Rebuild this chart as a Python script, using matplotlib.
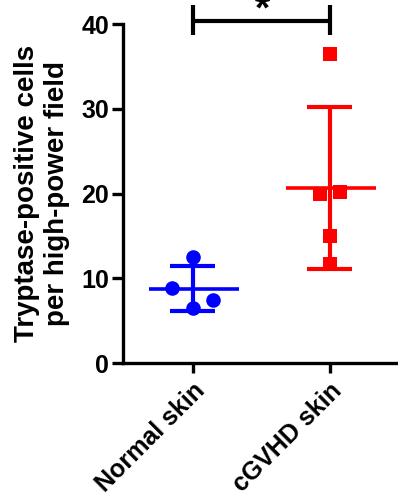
import numpy as np
import matplotlib
matplotlib.use("Agg")
import matplotlib.pyplot as plt

plt.rcParams['font.family'] = ['Liberation Sans', 'DejaVu Sans']
plt.rcParams['font.weight'] = 'bold'

groups = ["Normal skin", "cGVHD skin"]
normal_vals = [12.5, 8.8, 7.4, 6.45]
cgvhd_vals = [36.5, 20.0, 20.2, 15.0, 11.65]
yticks = [0, 10, 20, 30, 40]
ylabel = "Tryptase-positive cells\nper high-power field"

# horizontal scatter offsets so overlapping points stay visible
normal_jitter = [0.0, -0.15, 0.146, 0.0]
cgvhd_jitter = [0.0, -0.073, 0.073, 0.0, 0.0]

colors = ["#0000ff", "#ff0000"]
markers = ["o", "s"]

fig = plt.figure(figsize=(3.98, 4.96), dpi=100)
ax = fig.add_axes([0.309, 0.268, 0.691, 0.6835])

for i, (vals, jit) in enumerate([(normal_vals, normal_jitter), (cgvhd_vals, cgvhd_jitter)]):
    x = i + 1
    v = np.array(vals)
    m = v.mean()
    sd = v.std(ddof=1)
    c = colors[i]
    ax.scatter(x + np.array(jit), v, s=110, marker=markers[i], color=c,
               zorder=3, linewidths=0, clip_on=False)
    ax.hlines(m, x - 0.32, x + 0.34, color=c, lw=2.6, zorder=2)
    ax.vlines(x, m - sd, m + sd, color=c, lw=3.0, zorder=2)
    ax.hlines([m - sd, m + sd], x - 0.165, x + 0.165, color=c, lw=3.0, zorder=2)

# significance bracket
ax.plot([1, 2], [40.35, 40.35], color='black', lw=3.0, clip_on=False, solid_capstyle='butt')
ax.vlines([1, 2], 38.7, 42.2, color='black', lw=3.0, clip_on=False)
ax.text(1.51, 40.4, "*", ha='center', va='baseline', fontsize=28, fontweight='bold',
        clip_on=False)

ax.set_xlim(0.49, 2.5)
ax.set_ylim(0, 40)
ax.set_yticks(yticks)
ax.set_xticks([1, 2])
ax.set_xticklabels(groups, rotation=45, ha='right', rotation_mode='anchor',
                   fontsize=18, fontweight='bold')
ax.tick_params(axis='y', labelsize=18, width=2.4, length=8, pad=2)
ax.tick_params(axis='x', width=2.4, length=7, pad=4)
for lab in ax.get_yticklabels():
    lab.set_fontweight('bold')

for s in ['top', 'right']:
    ax.spines[s].set_visible(False)
for s in ['left', 'bottom']:
    ax.spines[s].set_linewidth(2.4)

ax.set_ylabel(ylabel, fontsize=20, fontweight='bold', linespacing=1.2, labelpad=8)

fig.savefig("out.png", dpi=100)
